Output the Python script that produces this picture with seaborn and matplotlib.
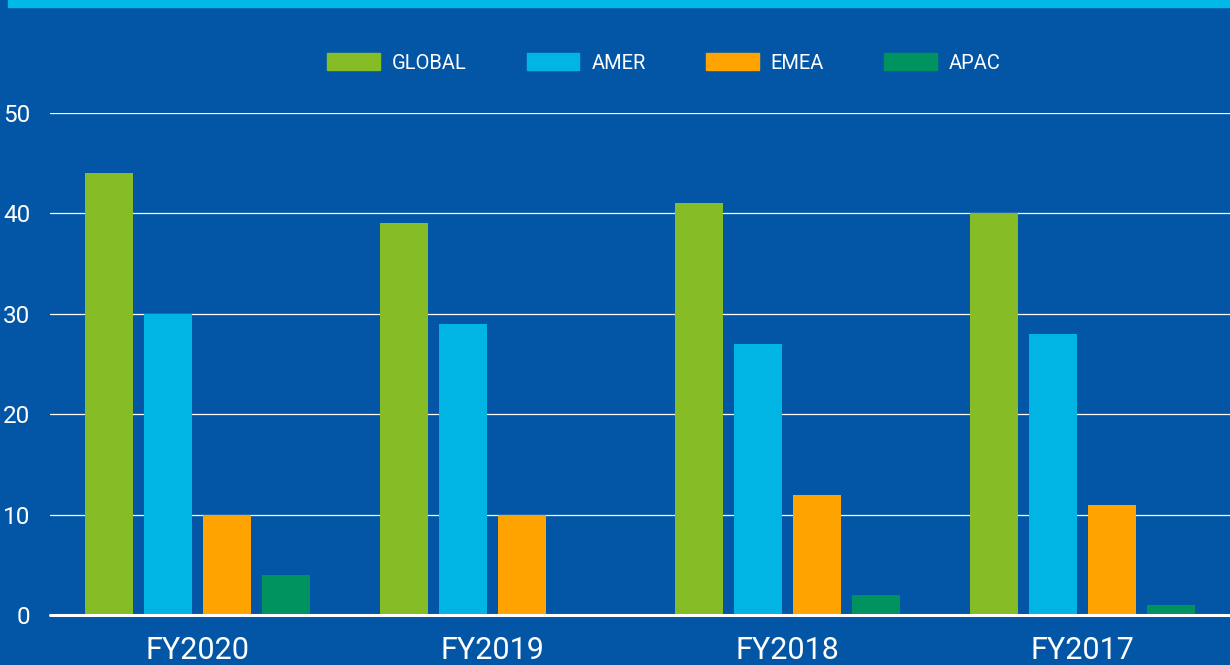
import matplotlib
matplotlib.use("Agg")
import matplotlib.pyplot as plt
import seaborn as sns
import pandas as pd
from matplotlib.patches import Rectangle

years = ["FY2020", "FY2019", "FY2018", "FY2017"]
regions = ["GLOBAL", "AMER", "EMEA", "APAC"]
global_vals = [44, 39, 41, 40]
amer_vals = [30, 29, 27, 28]
emea_vals = [10, 10, 12, 11]
apac_vals = [4, 0, 2, 1]
colors = ["#86BC25", "#00B5E4", "#FFA300", "#00925F"]

bg = "#0256A5"

rows = []
for reg, vals in zip(regions, [global_vals, amer_vals, emea_vals, apac_vals]):
    for y, v in zip(years, vals):
        rows.append({"Year": y, "Region": reg, "Value": v})
df = pd.DataFrame(rows)

sns.set_style("white")
plt.rcParams["font.family"] = ["Roboto", "DejaVu Sans"]

fig = plt.figure(figsize=(12.3, 6.65), dpi=100, facecolor=bg)
ax = fig.add_axes([50 / 1230, 50 / 665, 1180 / 1230, 502 / 665])
ax.set_facecolor(bg)

sns.barplot(data=df, x="Year", y="Value", hue="Region", order=years,
            hue_order=regions, palette=colors, saturation=1, width=0.8,
            gap=0.19, ax=ax, legend=False, edgecolor="none", linewidth=0)

ax.set_ylim(0, 50)
ax.set_xlim(-0.5, 3.5)
ax.set_yticks([0, 10, 20, 30, 40, 50])
for v in [10, 20, 30, 40, 50]:
    ax.axhline(v, color="white", lw=0.9, zorder=0)
ax.axhline(0, color="white", lw=2.2, zorder=3, clip_on=False)

for s in ax.spines.values():
    s.set_visible(False)
ax.tick_params(axis="y", length=0, pad=14, labelsize=17.5, labelcolor="white")
ax.tick_params(axis="x", length=0, pad=15, labelsize=22, labelcolor="white")
ax.set_xlabel("")
ax.set_ylabel("")

# top stripe
fig.patches.append(Rectangle((8 / 1230, 1 - 7 / 665), 1, 7 / 665,
                             transform=fig.transFigure, color="#00B9E8",
                             zorder=0))

handles = [Rectangle((0, 0), 1, 1, color=c) for c in colors]
fig.legend(handles, regions, loc="center", bbox_to_anchor=(664 / 1230, 1 - 63 / 665),
           ncol=4, frameon=False, fontsize=14.5, labelcolor="white",
           handlelength=2.6, handleheight=0.9, handletextpad=0.6,
           columnspacing=3.0)

fig.savefig("out.png", dpi=100, facecolor=bg)
